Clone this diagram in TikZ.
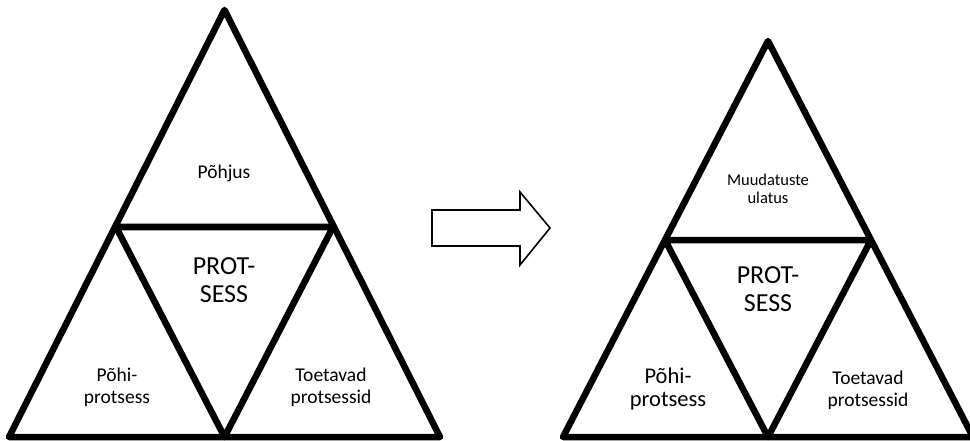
\documentclass[tikz,border=0pt]{standalone}
\usepackage{fontspec}
\setmainfont{Carlito}
\usepackage{xcolor}
\usepackage{tikz}
\usetikzlibrary{calc}
\definecolor{ink}{HTML}{000000}
\tikzset{
  tri/.style={draw=ink,line width=6.5pt,line join=round},
  arrowshape/.style={draw=ink,line width=1.6pt,line join=miter},
  lbl/.style={align=center,inner sep=0pt,text=ink,
    font=\fontsize{19.5}{22}\selectfont},
  smalllbl/.style={align=center,inner sep=0pt,text=ink,
    font=\fontsize{16.5}{18.5}\selectfont},
  biglbl/.style={align=center,inner sep=0pt,text=ink,
    font=\fontsize{26}{28.5}\selectfont}
}
\begin{document}
\begin{tikzpicture}[x=1pt,y=-1pt]
\useasboundingbox (0,0) rectangle (970,441);

% left triangle
\coordinate (Ltop) at (224.5,10);
\coordinate (Lbl) at (9,437);
\coordinate (Lbr) at (440,437);
\coordinate (Lml) at (116,227);
\coordinate (Lmr) at (333,227);
\coordinate (Lmb) at (224.5,437);
\draw[tri] (Ltop) -- (Lbr) -- (Lbl) -- cycle;
\draw[tri] (Lml) -- (Lmr) -- (Lmb) -- cycle;

\node[lbl] (Lcause) at (224,173) {Põhjus};
\node[biglbl] (Lproc) at (224,280) {PROT-\\SESS};
\node[lbl] (Lcore) at (117,387) {Põhi-\\protsess};
\node[lbl] (Lsupp) at (331,387) {Toetavad\\protsessid};

% arrow
\coordinate (Aa) at (432,210);
\coordinate (Ab) at (520,210);
\coordinate (Ac) at (520,192);
\coordinate (Ad) at (550,228);
\coordinate (Ae) at (520,265);
\coordinate (Af) at (520,246);
\coordinate (Ag) at (432,246);
\draw[arrowshape] (Aa) -- (Ab) -- (Ac) -- (Ad) -- (Ae) -- (Af) -- (Ag) -- cycle;

% right triangle
\coordinate (Rtop) at (768,41);
\coordinate (Rbl) at (563,437);
\coordinate (Rbr) at (973,437);
\coordinate (Rml) at (665,240);
\coordinate (Rmr) at (871,240);
\coordinate (Rmb) at (768,437);
\draw[tri] (Rtop) -- (Rbr) -- (Rbl) -- cycle;
\draw[tri] (Rml) -- (Rmr) -- (Rmb) -- cycle;

\node[smalllbl] (Rscope) at (768,189) {Muudatuste\\ulatus};
\node[biglbl] (Rproc) at (768,289) {PROT-\\SESS};
\node[lbl,font=\fontsize{22.5}{24}\selectfont] (Rcore) at (668,389) {Põhi-\\protsess};
\node[lbl] (Rsupp) at (868,390) {Toetavad\\protsessid};
\end{tikzpicture}
\end{document}
